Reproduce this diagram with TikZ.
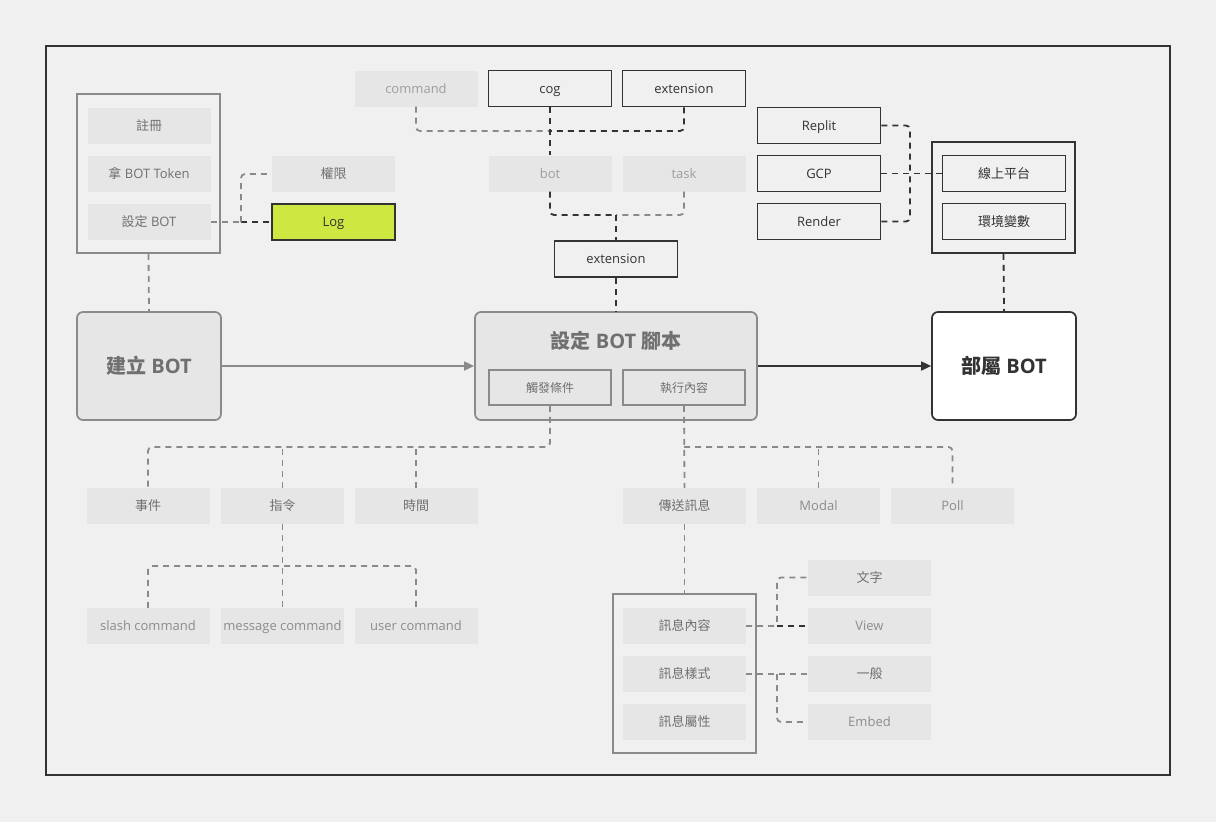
\documentclass[tikz,border=0pt]{standalone}
\usepackage{fontspec}
\setmainfont{Open Sans}
\newfontfamily\cjk{Noto Sans CJK TC}
\usetikzlibrary{arrows.meta,calc}
\definecolor{bg}{HTML}{F0F0F0}
\definecolor{boxg}{HTML}{E6E6E6}
\definecolor{tg}{HTML}{707070}
\definecolor{tm}{HTML}{8C8C8C}
\definecolor{tl}{HTML}{9E9E9E}
\definecolor{dk}{HTML}{333333}
\definecolor{lg}{HTML}{8A8A8A}
\definecolor{lime}{HTML}{CEE741}
\newcommand{\zht}[1]{{\cjk #1}}
\begin{document}
\begin{tikzpicture}[x=1pt,y=-1pt,
 base/.style={minimum width=123pt,minimum height=36pt,inner sep=0pt,text height=10.5pt,text depth=1.5pt,font=\fontsize{13}{15}\selectfont},
 gbox/.style={base,fill=boxg,text=tg},
 mbox/.style={gbox,text=tm},
 lbox/.style={gbox,text=tl},
 bbox/.style={base,draw=dk,line width=1.7pt,fill=bg,text=dk},
 frameg/.style={draw=lg,line width=1.7pt,inner sep=0pt},
 framed/.style={draw=dk,line width=1.7pt,inner sep=0pt},
 big/.style={rounded corners=6pt,line width=1.7pt,minimum width=144pt,minimum height=108pt,inner sep=0pt,text height=16pt,text depth=2pt,font=\fontsize{20}{24}\selectfont\bfseries},
 gd/.style={draw=lg,line width=1.8pt,dash pattern=on 6pt off 5pt,rounded corners=4pt},
 dd/.style={gd,draw=dk},
]
\useasboundingbox (0,0) rectangle (1216,822);
\fill[bg] (0,0) rectangle (1216,822);
\draw[dk,line width=1.7pt] (46,46) rectangle (1170,775);

% left group
\node[frameg,minimum width=143pt,minimum height=159pt] (g1) at (148.5,173.5) {};
\node[gbox] (reg) at (149,125.5) {\zht{註冊}};
\node[gbox] (tok) at (149,174) {\zht{拿} BOT Token};
\node[gbox] (setb) at (149,222) {\zht{設定} BOT};
\node[gbox] (perm) at (333.5,174) {\zht{權限}};
\node[bbox,fill=lime] (log) at (333.5,222) {Log};
\coordinate (jl) at (241,222);
\draw[gd] (setb.east) -- (jl);
\draw[dd] (jl) -- (log.west);
\draw[gd] (jl) |- (perm.west);

% top middle
\node[lbox] (cmd) at (416,88.5) {command};
\node[bbox] (cog) at (550,88.5) {cog};
\node[bbox] (ext1) at (684,88.5) {extension};
\node[lbox] (bot) at (550,173.5) {bot};
\node[lbox] (task) at (684,173.5) {task};
\node[bbox] (ext2) at (616,259) {extension};
\coordinate (tj1) at (550,131);
\draw[gd] (cmd.south) |- (tj1);
\draw[dd] (ext1.south) |- (tj1);
\draw[dd] (cog.south) -- (bot.north);
\coordinate (tj2) at (616,215);
\draw[dd] (bot.south) |- (tj2);
\draw[gd] (task.south) |- (tj2);
\draw[dd] (tj2) -- (ext2.north);

% top right
\node[bbox] (rep) at (819,125.5) {Replit};
\node[bbox] (gcp) at (819,173.5) {GCP};
\node[bbox] (ren) at (819,221.5) {Render};
\node[framed,minimum width=143pt,minimum height=111pt] (g2) at (1003.5,197.5) {};
\node[bbox] (onl) at (1004,173.5) {\zht{線上平台}};
\node[bbox] (env) at (1004,221.5) {\zht{環境變數}};
\coordinate (jr) at (910,173.5);
\draw[dd] (rep.east) -| (jr);
\draw[dd] (ren.east) -| (jr);
\draw[dd] (gcp.east) -- (onl.west);

% main row
\node[big,draw=lg,fill=boxg,text=tg] (mk) at (149,366) {\zht{建立} BOT};
\node[big,draw=lg,fill=boxg,minimum width=282pt] (script) at (616,366) {};
\node[text=tg,font=\fontsize{20}{24}\selectfont\bfseries,inner sep=0pt,text height=16pt,text depth=2pt] (stitle) at (616,341) {\zht{設定} BOT \zht{腳本}};
\node[base,draw=lg,line width=1.7pt,fill=boxg,text=tg,minimum width=122pt,minimum height=35pt,font=\fontsize{12}{14}\selectfont] (trig) at (550,387.5) {\zht{觸發條件}};
\node[base,draw=lg,line width=1.7pt,fill=boxg,text=tg,minimum width=122pt,minimum height=35pt,font=\fontsize{12}{14}\selectfont] (exe) at (684,387.5) {\zht{執行內容}};
\node[big,draw=dk,fill=white,text=dk] (dep) at (1004,366) {\zht{部屬} BOT};
\draw[lg,line width=1.7pt,-{Triangle[length=10pt,width=9pt]}] (mk.east) -- (script.west);
\draw[dk,line width=1.7pt,-{Triangle[length=10pt,width=9pt]}] (script.east) -- (dep.west);
\draw[gd] (g1.south) -- (mk.north);
\draw[dd] (ext2.south) -- (script.north);
\draw[dd] (g2.south) -- (dep.north);

% bottom left
\node[gbox] (ev) at (148,506) {\zht{事件}};
\node[gbox] (ins) at (282.5,506) {\zht{指令}};
\node[gbox] (tim) at (416,506) {\zht{時間}};
\node[mbox] (slash) at (148,626) {slash command};
\node[mbox] (msgc) at (282.5,626) {message command};
\node[mbox] (userc) at (416,626) {user command};
\coordinate (bj) at (550,447);
\draw[gd] (trig.south) -- (bj) -| (ev.north);
\draw[gd] (ins.north) -- (ins.north |- bj);
\draw[gd] (tim.north) -- (tim.north |- bj);
\coordinate (cj) at (282.5,566);
\draw[gd] (ins.south) -- (msgc.north);
\draw[gd] (slash.north) |- (cj) -| (userc.north);

% bottom right
\node[gbox] (send) at (684.5,506) {\zht{傳送訊息}};
\node[mbox] (modal) at (818.5,506) {Modal};
\node[mbox] (poll) at (952.5,506) {Poll};
\draw[gd] (exe.south) -- (send.north);
\draw[gd] (exe.south |- bj) -| (poll.north);
\draw[gd] (modal.north) -- (modal.north |- bj);
\node[frameg,minimum width=143pt,minimum height=159pt] (g3) at (684.5,673.5) {};
\node[gbox] (mc) at (684.5,626) {\zht{訊息內容}};
\node[gbox] (ms) at (684.5,674) {\zht{訊息樣式}};
\node[gbox] (ma) at (684.5,722) {\zht{訊息屬性}};
\draw[gd] (send.south) -- (g3.north);
\node[gbox] (txt) at (869.5,577.5) {\zht{文字}};
\node[mbox] (view) at (869.5,626) {View};
\node[gbox] (gen) at (869.5,674) {\zht{一般}};
\node[mbox] (emb) at (869.5,722) {Embed};
\coordinate (mj1) at (777,626);
\coordinate (mj2) at (777,674);
\draw[gd] (mc.east) -- (mj1) |- (txt.west);
\draw[dd] (mj1) -- (view.west);
\draw[gd] (ms.east) -- (mj2) -- (gen.west);
\draw[gd] (mj2) |- (emb.west);
\end{tikzpicture}
\end{document}
